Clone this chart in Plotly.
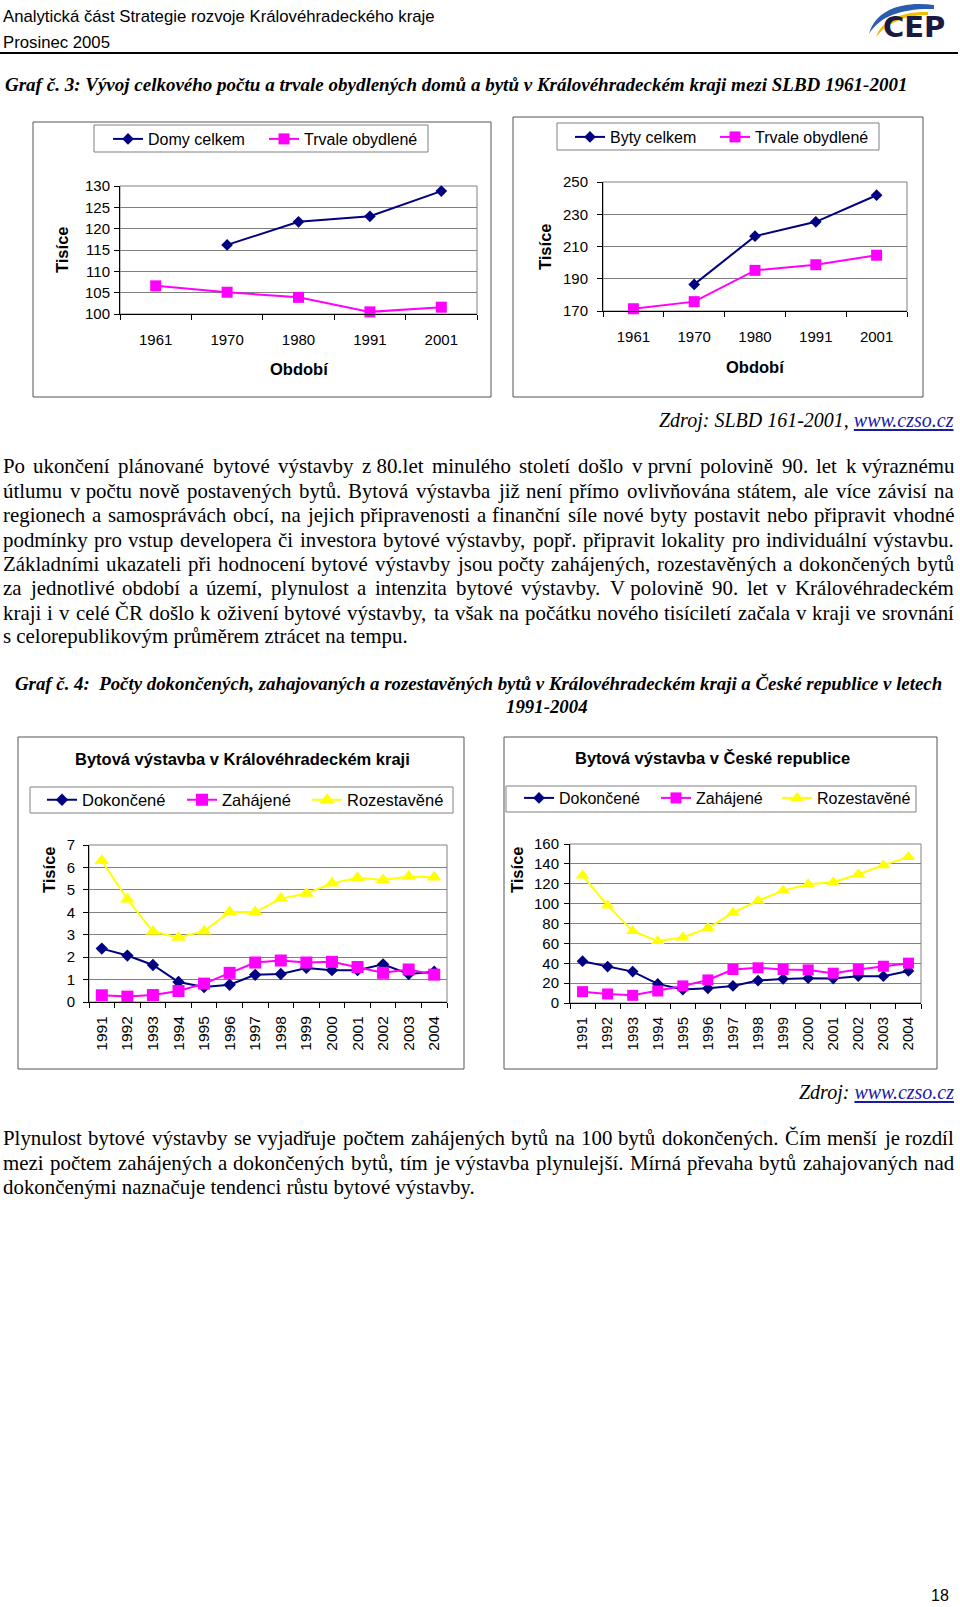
import glob
import os
import struct
import plotly.graph_objects as go

W, H = 960, 1607

# ---------------- data ----------------
slbd_periods = ['1961', '1970', '1980', '1991', '2001']
domy_celkem = [None, 116.2, 121.6, 122.9, 128.8]
domy_trvale = [106.6, 105.1, 103.9, 100.5, 101.6]
byty_celkem = [None, 186.5, 216.4, 225.3, 241.8]
byty_trvale = [171.4, 175.8, 195.2, 198.7, 204.6]

roky = ['1991', '1992', '1993', '1994', '1995', '1996', '1997',
        '1998', '1999', '2000', '2001', '2002', '2003', '2004']
kh_dokoncene = [2.38, 2.07, 1.65, 0.89, 0.67, 0.77, 1.21, 1.25, 1.52, 1.42, 1.42, 1.68, 1.25, 1.35]
kh_zahajene = [0.30, 0.24, 0.31, 0.49, 0.82, 1.30, 1.76, 1.85, 1.76, 1.79, 1.56, 1.30, 1.45, 1.22]
kh_rozestavene = [6.30, 4.58, 3.14, 2.88, 3.16, 4.01, 4.01, 4.61, 4.84, 5.29, 5.54, 5.44, 5.59, 5.56]
cr_dokoncene = [42.1, 36.7, 31.6, 19.2, 13.5, 14.8, 17.2, 22.6, 24.2, 24.9, 24.6, 26.9, 26.9, 32.3]
cr_zahajene = [11.4, 9.1, 7.7, 12.1, 17.2, 23.2, 33.7, 35.4, 33.7, 33.3, 30.0, 33.7, 37.0, 40.1]
cr_rozestavene = [128.3, 98.0, 72.4, 62.3, 66.0, 75.4, 90.9, 103.0, 113.1, 119.5, 121.5, 129.6, 138.7, 146.8]

header_1 = 'Analytická část Strategie rozvoje Královéhradeckého kraje'
header_2 = 'Prosinec 2005'
logo_text = 'CEP'
caption_3 = 'Graf č. 3: Vývoj celkového počtu a trvale obydlených domů a bytů v Královéhradeckém kraji mezi SLBD 1961-2001'
caption_4a = 'Graf č. 4:  Počty dokončených, zahajovaných a rozestavěných bytů v Královéhradeckém kraji a České republice v letech'
caption_4b = '1991-2004'
source_1 = 'Zdroj: SLBD 161-2001, '
source_2 = 'Zdroj: '
source_link = 'www.czso.cz'
para_1 = [
    'Po ukončení plánované bytové výstavby z\u00a080.let minulého století došlo v\u00a0první polovině 90. let k\u00a0výraznému',
    'útlumu v\u00a0počtu nově postavených bytů. Bytová výstavba již není přímo ovlivňována státem, ale více závisí na',
    'regionech a samosprávách obcí, na jejich připravenosti a finanční síle nové byty postavit nebo připravit vhodné',
    'podmínky pro vstup developera či investora bytové výstavby, popř. připravit lokality pro individuální výstavbu.',
    'Základními ukazateli při hodnocení bytové výstavby jsou počty zahájených, rozestavěných a dokončených bytů',
    'za jednotlivé období a území, plynulost a intenzita bytové výstavby. V\u00a0polovině 90. let v Královéhradeckém',
    'kraji i v celé ČR došlo k oživení bytové výstavby, ta však na počátku nového tisíciletí začala v kraji ve srovnání',
    's celorepublikovým průměrem ztrácet na tempu.',
]
para_2 = [
    'Plynulost bytové výstavby se vyjadřuje počtem zahájených bytů na 100 bytů dokončených. Čím menší je rozdíl',
    'mezi počtem zahájených a dokončených bytů, tím je výstavba plynulejší. Mírná převaha bytů zahajovaných nad',
    'dokončenými naznačuje tendenci růstu bytové výstavby.',
]

SANS = 'Liberation Sans, Arial, sans-serif'
SERIF = 'Liberation Serif, Times New Roman, serif'
NAVY = '#000080'
MAGENTA = '#FF00FF'
YELLOW = '#FFFF00'


# ---------------- font metrics (for text layout) ----------------
class Metrics:
    def __init__(self, fname, approx):
        self.approx = approx
        self.ok = False
        try:
            path = None
            for d in ['/usr/share/fonts', '/usr/local/share/fonts', os.path.expanduser('~/.fonts')]:
                hits = glob.glob(os.path.join(d, '**', fname), recursive=True)
                if hits:
                    path = hits[0]
                    break
            if path is None:
                return
            data = open(path, 'rb').read()
            self.d = data
            num = struct.unpack('>H', data[4:6])[0]
            tabs = {}
            for i in range(num):
                tag, cs, off, ln = struct.unpack('>4sIII', data[12 + 16 * i:28 + 16 * i])
                tabs[tag.decode('latin1')] = off
            self.upem = struct.unpack('>H', data[tabs['head'] + 18:tabs['head'] + 20])[0]
            nh = struct.unpack('>H', data[tabs['hhea'] + 34:tabs['hhea'] + 36])[0]
            hm = tabs['hmtx']
            self.adv = [struct.unpack('>H', data[hm + 4 * i:hm + 4 * i + 2])[0] for i in range(nh)]
            cm = tabs['cmap']
            n = struct.unpack('>H', data[cm + 2:cm + 4])[0]
            sub = None
            for i in range(n):
                pid, eid, off = struct.unpack('>HHI', data[cm + 4 + 8 * i:cm + 12 + 8 * i])
                fmt = struct.unpack('>H', data[cm + off:cm + off + 2])[0]
                if fmt == 4 and (pid == 3 and eid == 1 or pid == 0):
                    sub = cm + off
            seg2 = struct.unpack('>H', data[sub + 6:sub + 8])[0]
            sc = seg2 // 2
            self.sc = sc
            self.ends = struct.unpack('>%dH' % sc, data[sub + 14:sub + 14 + seg2])
            so = sub + 16 + seg2
            self.starts = struct.unpack('>%dH' % sc, data[so:so + seg2])
            do = so + seg2
            self.deltas = struct.unpack('>%dh' % sc, data[do:do + seg2])
            self.ro_off = do + seg2
            self.ros = struct.unpack('>%dH' % sc, data[self.ro_off:self.ro_off + seg2])
            self.ok = True
        except Exception:
            self.ok = False

    def gid(self, ch):
        c = ord(ch)
        for i in range(self.sc):
            if self.ends[i] >= c:
                if self.starts[i] > c:
                    return 0
                if self.ros[i] == 0:
                    return (c + self.deltas[i]) & 0xFFFF
                addr = self.ro_off + 2 * i + self.ros[i] + 2 * (c - self.starts[i])
                g = struct.unpack('>H', self.d[addr:addr + 2])[0]
                return (g + self.deltas[i]) & 0xFFFF if g else 0
        return 0

    def width(self, text, size):
        if not self.ok:
            return len(text) * self.approx * size
        tot = 0
        for ch in text:
            g = self.gid(ch)
            tot += self.adv[min(g, len(self.adv) - 1)]
        return tot / self.upem * size


m_sans = Metrics('LiberationSans-Regular.ttf', 0.5)
m_serif = Metrics('LiberationSerif-Regular.ttf', 0.45)
m_serif_i = Metrics('LiberationSerif-Italic.ttf', 0.43)
m_serif_bi = Metrics('LiberationSerif-BoldItalic.ttf', 0.45)


def X(px):
    return px / W


def Y(py):
    return 1 - py / H


annotations = []
shapes = []


def text(t, x, y, size, family=SANS, xanchor='left', color='black', angle=0):
    annotations.append(dict(text=t, x=X(x), y=Y(y), xref='paper', yref='paper',
                            xanchor=xanchor, yanchor='middle', showarrow=False,
                            font=dict(size=size, family=family, color=color),
                            textangle=angle, borderpad=0, borderwidth=0))


def box(x0, y0, x1, y1, color, width=1):
    shapes.append(dict(type='rect', xref='paper', yref='paper', x0=X(x0), x1=X(x1),
                       y0=Y(y1), y1=Y(y0), line=dict(color=color, width=width),
                       fillcolor='rgba(0,0,0,0)', layer='below'))


def fit(t, m, target):
    return target / m.width(t, 1.0)


def justify(line, x0, x1, y, m, size, last=False):
    if last:
        text(line, x0, y, size, SERIF)
        return
    toks = line.split(' ')
    ws = [m.width(t, size) for t in toks]
    gap = (x1 - x0 - sum(ws)) / max(1, len(toks) - 1)
    x = x0
    for t, w in zip(toks, ws):
        text(t, x, y, size, SERIF)
        x += w + gap


fig = go.Figure()

# ---------------- page header ----------------
hs = (fit(header_1, m_sans, 432) + fit(header_2, m_sans, 107)) / 2
text(header_1, 3, 16, hs)
text(header_2, 3, 42, hs)
shapes.append(dict(type='line', xref='paper', yref='paper', x0=X(0), x1=X(958), y0=Y(53), y1=Y(53),
                   line=dict(color='black', width=2)))


# CEP logo
def pth(points):
    out = []
    for cmd, pts in points:
        out.append(cmd + ' '.join('%.5f,%.5f' % (X(a), Y(b)) for a, b in pts))
    return ' '.join(out) + ' Z'


shapes.append(dict(type='path', xref='paper', yref='paper',
                   path=pth([('M', [(934, 5)]), ('C', [(905, 1), (876, 8), (869, 34)]),
                             ('C', [(880, 15), (905, 8), (934, 9)])]),
                   fillcolor='#2a5db0', line=dict(width=0)))
shapes.append(dict(type='path', xref='paper', yref='paper',
                   path=pth([('M', [(928, 12)]), ('C', [(904, 11), (882, 19), (876, 37)]),
                             ('C', [(888, 22), (906, 15), (928, 15)])]),
                   fillcolor='#f0c000', line=dict(width=0)))
text('<b>' + logo_text + '</b>', 914, 27, 29, 'DejaVu Sans, Liberation Sans, sans-serif',
     xanchor='center', color='#1a1a40')

# ---------------- captions & paragraphs ----------------
c3 = fit(caption_3, m_serif_bi, 903)
text('<b><i>' + caption_3 + '</i></b>', 5, 85, c3, SERIF)

zs = (fit(source_1 + source_link, m_serif_i, 301) + fit(source_2 + source_link, m_serif_i, 155)) / 2
link = '<span style="color:#1a1aa6"><u>' + source_link + '</u></span>'
text('<i>' + source_1 + link + '</i>', 954, 420, zs, SERIF, xanchor='right')
text('<i>' + source_2 + link + '</i>', 954, 1092, zs, SERIF, xanchor='right')

bs = (fit(para_1[-1], m_serif, 405) + fit(para_2[-1], m_serif, 473)) / 2
p1_y = [466, 491, 515, 540, 564, 588, 613, 636]
for i, ln in enumerate(para_1):
    justify(ln, 3, 954, p1_y[i], m_serif, bs, last=(i == len(para_1) - 1))
p2_y = [1138, 1163, 1187]
for i, ln in enumerate(para_2):
    justify(ln, 3, 954, p2_y[i], m_serif, bs, last=(i == len(para_2) - 1))

c4 = fit(caption_4a, m_serif_bi, 928)
text('<b><i>' + caption_4a + '</i></b>', 15, 683, c4, SERIF)
text('<b><i>' + caption_4b + '</i></b>', 547, 706, c4, SERIF, xanchor='center')

text('18', 940, 1595, 16, SANS, xanchor='center')

# ---------------- chart frames ----------------
FRAME = '#555555'
LEGBOX = '#808080'
box(33, 122, 491, 397, FRAME)
box(513, 117, 923, 397, FRAME)
box(18, 737, 464, 1069, FRAME)
box(504, 737, 937, 1069, FRAME)
box(94, 125, 428, 152, LEGBOX)
box(557, 123, 879, 150, LEGBOX)
box(30, 787, 453, 813, LEGBOX)
box(506, 786, 916, 812, LEGBOX)

layout = {}
GRID = '#808080'


def axes(sfx, dom, cats, rng, dtick, xfont, yfont, tickangle, xstand, ystand):
    layout['xaxis' + sfx] = dict(
        domain=[X(dom[0]), X(dom[1])], anchor='y' + sfx, type='category',
        range=[-0.5, len(cats) - 0.5], tickson='boundaries', ticks='outside', ticklen=5,
        tickcolor='black', showline=True, linecolor='black', linewidth=1, showgrid=False,
        zeroline=False, tickfont=dict(family=SANS, size=xfont, color='black'),
        tickangle=tickangle, ticklabelstandoff=xstand, fixedrange=True, automargin=False)
    layout['yaxis' + sfx] = dict(
        domain=[Y(dom[3]), Y(dom[2])], anchor='x' + sfx, range=list(rng), dtick=dtick,
        tick0=rng[0], ticks='outside', ticklen=5, tickcolor='black', showline=True,
        linecolor='black', linewidth=1, showgrid=True, gridcolor=GRID, gridwidth=1,
        zeroline=False, tickfont=dict(family=SANS, size=yfont, color='black'),
        ticklabelstandoff=ystand, fixedrange=True, automargin=False)
    ref = sfx if sfx else ''
    shapes.append(dict(type='rect', xref='x' + ref + ' domain', yref='y' + ref + ' domain',
                       x0=0, x1=1, y0=0, y1=1, line=dict(color=GRID, width=1), layer='below'))


axes('', (120, 477, 186, 314), slbd_periods, (100, 130), 5, 15, 15, 0, 12, 1)
axes('2', (603, 907, 182, 311), slbd_periods, (170, 250), 20, 15, 15, 0, 12, 6)
axes('3', (89, 447, 845, 1002), roky, (0, 7), 1, 15.5, 15, -90, 7, 5)
axes('4', (570, 921, 844, 1003), roky, (0, 160), 20, 15, 15, -90, 7, 2)

STY = {
    'diamond': (NAVY, 'diamond'),
    'square': (MAGENTA, 'square'),
    'triangle': (YELLOW, 'triangle-up'),
}


def series(name, cats, vals, kind, sfx, legend_id, msize):
    col, sym = STY[kind]
    fig.add_trace(go.Scatter(
        x=cats, y=vals, name=name, mode='lines+markers',
        line=dict(color=col, width=2),
        marker=dict(symbol=sym, size=msize, color=col, line=dict(width=0)),
        xaxis='x' + sfx, yaxis='y' + sfx, legend=legend_id, cliponaxis=False,
        hoverinfo='skip'))


def legend_at(lid, x_text, y, size):
    layout[lid] = dict(x=X(x_text - 40), y=Y(y), xanchor='left', yanchor='middle',
                       orientation='h', bgcolor='rgba(0,0,0,0)', borderwidth=0,
                       font=dict(family=SANS, size=size, color='black'),
                       itemclick=False, itemdoubleclick=False)


series('Domy celkem', slbd_periods, domy_celkem, 'diamond', '', 'legend', 9)
series('Trvale obydlené', slbd_periods, domy_trvale, 'square', '', 'legend2', 11)
legend_at('legend', 148, 139, 16)
legend_at('legend2', 304, 139, 16)

series('Byty celkem', slbd_periods, byty_celkem, 'diamond', '2', 'legend3', 9)
series('Trvale obydlené', slbd_periods, byty_trvale, 'square', '2', 'legend4', 11)
legend_at('legend3', 610, 137, 16)
legend_at('legend4', 755, 137, 16)

series('Dokončené', roky, kh_dokoncene, 'diamond', '3', 'legend5', 9.5)
series('Zahájené', roky, kh_zahajene, 'square', '3', 'legend6', 12)
series('Rozestavěné', roky, kh_rozestavene, 'triangle', '3', 'legend7', 13)
legend_at('legend5', 82, 800, 16.5)
legend_at('legend6', 222, 800, 16.5)
legend_at('legend7', 347, 800, 16.5)

series('Dokončené', roky, cr_dokoncene, 'diamond', '4', 'legend8', 9)
series('Zahájené', roky, cr_zahajene, 'square', '4', 'legend9', 11)
series('Rozestavěné', roky, cr_rozestavene, 'triangle', '4', 'legend10', 12)
legend_at('legend8', 559, 798, 16)
legend_at('legend9', 696, 798, 16)
legend_at('legend10', 817, 798, 16)

# chart titles and axis titles
text('<b>Bytová výstavba v Královéhradeckém kraji</b>', 242, 759, 16.5, SANS, xanchor='center')
text('<b>Bytová výstavba v České republice</b>', 712, 758, 16.5, SANS, xanchor='center')
text('<b>Tisíce</b>', 62, 250, 16.5, SANS, xanchor='center', angle=-90)
text('<b>Tisíce</b>', 545, 247, 16.5, SANS, xanchor='center', angle=-90)
text('<b>Tisíce</b>', 49, 870, 16.5, SANS, xanchor='center', angle=-90)
text('<b>Tisíce</b>', 517, 870, 16.5, SANS, xanchor='center', angle=-90)
text('<b>Období</b>', 299, 369, 16.5, SANS, xanchor='center')
text('<b>Období</b>', 755, 367, 16.5, SANS, xanchor='center')

fig.update_layout(
    width=W, height=H, autosize=False,
    margin=dict(l=0, r=0, t=0, b=0, pad=0, autoexpand=False),
    paper_bgcolor='white', plot_bgcolor='white',
    showlegend=True,
    annotations=annotations, shapes=shapes,
    **layout,
)

fig.write_html('out.html', include_plotlyjs=True, full_html=True,
               config={'displayModeBar': False, 'staticPlot': True},
               post_script="document.body.style.margin='0';document.body.style.overflow='hidden';")
